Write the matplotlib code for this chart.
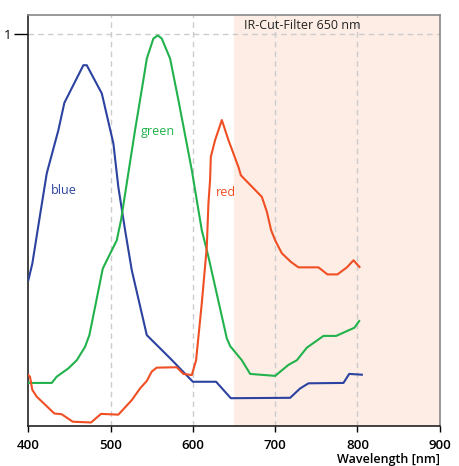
import matplotlib.pyplot as plt

plt.rcParams["font.family"] = ["Open Sans", "DejaVu Sans"]

blue_nm = [400, 404.9, 414.2, 422.4, 436.5, 443.8, 466.9, 471, 489.3, 503.4, 509.4,
           517.6, 525.7, 544, 572.3, 600, 628.2, 646.1, 718.2, 730.4, 740.5, 783,
           790, 805.4]
blue_val = [0.372, 0.415, 0.538, 0.645, 0.755, 0.825, 0.921, 0.921, 0.849, 0.721,
            0.610, 0.5, 0.398, 0.232, 0.173, 0.113, 0.113, 0.071, 0.072, 0.096,
            0.109, 0.110, 0.133, 0.131]

green_nm = [400, 428.5, 434.5, 448.6, 458.9, 468.9, 474.2, 482, 490.5, 500.6, 507.5,
            512.7, 529.7, 539.8, 544, 552, 557.3, 562.2, 572.3, 582.4, 598.7, 610.8,
            618.9, 641.2, 645.3, 659.5, 669.6, 700, 716.1, 726.4, 738.5, 758.7,
            774.2, 796.4, 802.1]
green_val = [0.110, 0.110, 0.126, 0.147, 0.168, 0.202, 0.232, 0.313, 0.402, 0.445,
             0.474, 0.526, 0.755, 0.883, 0.938, 0.989, 0.997, 0.989, 0.938, 0.832,
             0.653, 0.5, 0.432, 0.224, 0.204, 0.168, 0.133, 0.128, 0.156, 0.168,
             0.2, 0.230, 0.230, 0.251, 0.268]

red_nm = [400, 402, 404.9, 410.2, 431.6, 440.6, 454, 476.2, 488.4, 509.4, 525.7,
          535.8, 544, 550, 556.1, 580.4, 588.5, 598.7, 603.9, 610.8, 616.9, 618.9,
          620.9, 621.8, 627, 635.2, 643.2, 655.4, 658.3, 683.8, 689.9, 695.1, 700,
          708.1, 719.1, 728.3, 752.6, 763.6, 775.7, 787.2, 795.2, 802.5]
red_val = [0.130, 0.126, 0.092, 0.075, 0.032, 0.030, 0.011, 0.009, 0.031, 0.029,
           0.066, 0.096, 0.115, 0.139, 0.149, 0.150, 0.133, 0.130, 0.168, 0.313,
           0.457, 0.568, 0.628, 0.687, 0.730, 0.781, 0.730, 0.661, 0.640, 0.585,
           0.547, 0.5, 0.474, 0.441, 0.419, 0.405, 0.405, 0.387, 0.387, 0.405,
           0.423, 0.406]

cut_nm = 650
xticks = [400, 500, 600, 700, 800, 900]

fig = plt.figure(figsize=(4.59, 4.66), dpi=100)
ax = fig.add_axes([0.0617, 0.0858, 0.8963, 0.8827])

ax.axvspan(cut_nm, 900, color="#fdede5", zorder=0, lw=0)
for x in [500, 600, 700, 800]:
    ax.axvline(x, color="#cccccc", lw=1, ls=(0, (4, 3)), zorder=1)
ax.axhline(1, color="#cccccc", lw=1, ls=(0, (4, 3)), zorder=1)

ax.plot(blue_nm, blue_val, color="#2c42a0", lw=1.5, zorder=3)
ax.plot(green_nm, green_val, color="#22b24c", lw=1.5, zorder=3)
ax.plot(red_nm, red_val, color="#f04e23", lw=1.5, zorder=3)

ax.text(443, 0.60, "blue", color="#2c42a0", fontsize=9, ha="center", va="center")
ax.text(557, 0.753, "green", color="#22b24c", fontsize=9, ha="center", va="center")
ax.text(640, 0.597, "red", color="#f04e23", fontsize=9, ha="center", va="center")
ax.text(662, 1.023, "IR-Cut-Filter 650 nm", color="#222222", fontsize=9,
        ha="left", va="center")

ax.set_xlim(400, 900)
ax.set_ylim(0, 1.05)
ax.set_xticks(xticks)
ax.set_yticks([1])
ax.set_yticklabels(["1"])
ax.tick_params(axis="x", direction="out", length=4, width=1, labelsize=9.5, pad=5)
ax.tick_params(axis="y", direction="out", length=10, width=1, labelsize=9.5, pad=2)
for lab in ax.get_xticklabels():
    lab.set_fontweight("semibold")

ax.spines["left"].set_color("#222222")
ax.spines["bottom"].set_color("#222222")
ax.spines["top"].set_color("#888888")
ax.spines["right"].set_color("#888888")
for s in ax.spines.values():
    s.set_linewidth(1.2)

ax.set_xlabel("Wavelength [nm]", loc="right", fontsize=9, fontweight="semibold",
              labelpad=1)

fig.savefig("out.png", dpi=100)
